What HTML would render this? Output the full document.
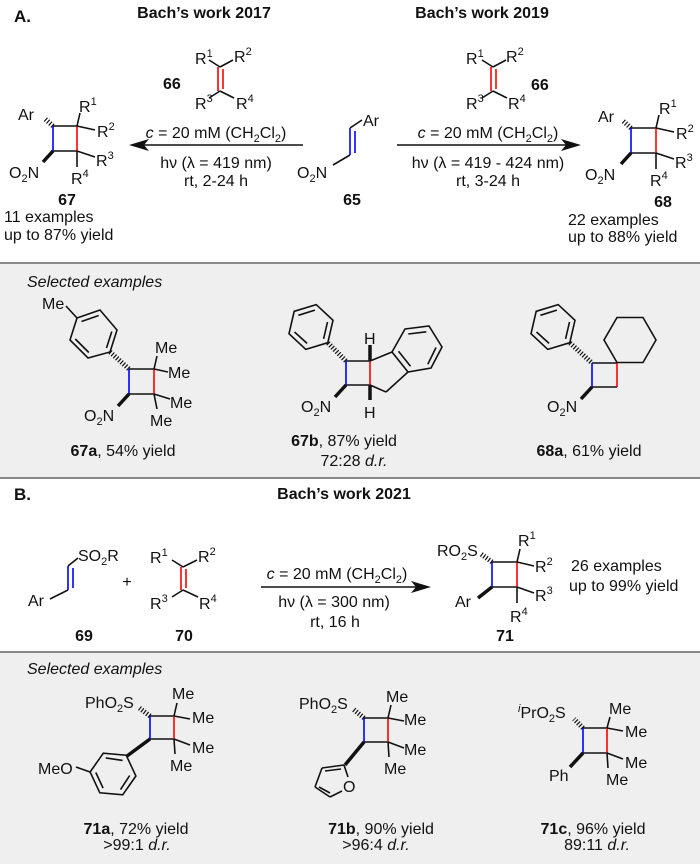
<!DOCTYPE html>
<html><head><meta charset="utf-8"><style>
html,body{margin:0;padding:0;background:#fff;}
svg{display:block;}
text{font-family:"Liberation Sans",Arial,sans-serif;font-size:16px;fill:#111;}
.b{font-weight:bold;}
.i{font-style:italic;}
.s{font-size:11px;}
</style></head><body>
<svg width="700" height="864" viewBox="0 0 700 864" xmlns="http://www.w3.org/2000/svg">
<g stroke="#111" stroke-width="1.6" fill="none" stroke-linecap="round">
</g>
<!-- Section A headers -->
<text x="14" y="22" class="b" style="font-size:17px">A.</text>
<text x="204" y="18" class="b" text-anchor="middle">Bach’s work 2017</text>
<text x="482" y="18" class="b" text-anchor="middle">Bach’s work 2019</text>

<!-- 66 left -->
<g stroke="#111" stroke-width="1.6" fill="none">
<line x1="220" y1="67" x2="209" y2="60"/><line x1="220" y1="67" x2="233" y2="60"/>
<line x1="220" y1="91" x2="209" y2="98"/><line x1="220" y1="91" x2="234" y2="98"/>
<line x1="218" y1="67" x2="218" y2="91" stroke="#f00"/><line x1="223" y1="69" x2="223" y2="89" stroke="#f00"/>
</g>
<text x="195" y="64">R<tspan class="s" dy="-7">1</tspan></text>
<text x="234" y="62">R<tspan class="s" dy="-7">2</tspan></text>
<text x="195" y="109">R<tspan class="s" dy="-7">3</tspan></text>
<text x="236" y="109">R<tspan class="s" dy="-7">4</tspan></text>
<text x="163" y="89" class="b">66</text>

<!-- 67 -->
<g stroke="#111" stroke-width="1.6" fill="none">
<line x1="53" y1="126" x2="77" y2="126"/><line x1="53" y1="151" x2="77" y2="151"/>
<line x1="53" y1="126" x2="53" y2="151" stroke="#00f"/><line x1="77" y1="126" x2="77" y2="151" stroke="#f00"/>
<line x1="77" y1="126" x2="80" y2="113"/><line x1="77" y1="126" x2="95" y2="130"/>
<line x1="77" y1="151" x2="95" y2="157"/><line x1="77" y1="151" x2="77" y2="167"/>
<line x1="53" y1="126" x2="44" y2="118" stroke-width="5" stroke-dasharray="1.2 1.8"/>
<line x1="53" y1="151" x2="43" y2="162" stroke-width="3.5"/>
</g>
<text x="18" y="120">Ar</text>
<text x="79" y="112">R<tspan class="s" dy="-7">1</tspan></text>
<text x="97" y="137">R<tspan class="s" dy="-7">2</tspan></text>
<text x="96" y="166">R<tspan class="s" dy="-7">3</tspan></text>
<text x="71" y="184">R<tspan class="s" dy="-7">4</tspan></text>
<text x="9" y="178">O<tspan class="s" dy="4">2</tspan><tspan dy="-4">N</tspan></text>
<text x="67" y="205" class="b" text-anchor="middle">67</text>
<text x="4" y="222">11 examples</text>
<text x="4" y="240">up to 87% yield</text>

<!-- arrow 1 -->
<line x1="140" y1="145" x2="303" y2="145" stroke="#111" stroke-width="1.6"/>
<polygon points="129,145 149,139 144,145 149,151" fill="#111"/>
<text x="216" y="138" text-anchor="middle"><tspan class="i">c</tspan> = 20 mM (CH<tspan class="s" dy="4">2</tspan><tspan dy="-4">Cl</tspan><tspan class="s" dy="4">2</tspan><tspan dy="-4">)</tspan></text>
<text x="216" y="168" text-anchor="middle">hν (λ = 419 nm)</text>
<text x="216" y="186" text-anchor="middle">rt, 2-24 h</text>

<!-- 65 -->
<g stroke="#111" stroke-width="1.6" fill="none">
<line x1="350" y1="128" x2="362" y2="120"/>
<line x1="350" y1="155" x2="333" y2="165"/>
<line x1="350" y1="128" x2="350" y2="155" stroke="#00f"/><line x1="355" y1="131" x2="355" y2="153" stroke="#00f"/>
</g>
<text x="363" y="126">Ar</text>
<text x="297" y="178">O<tspan class="s" dy="4">2</tspan><tspan dy="-4">N</tspan></text>
<text x="352" y="205" class="b" text-anchor="middle">65</text>

<!-- arrow 2 -->
<line x1="397" y1="145" x2="570" y2="145" stroke="#111" stroke-width="1.6"/>
<polygon points="581,145 561,139 566,145 561,151" fill="#111"/>
<text x="488" y="138" text-anchor="middle"><tspan class="i">c</tspan> = 20 mM (CH<tspan class="s" dy="4">2</tspan><tspan dy="-4">Cl</tspan><tspan class="s" dy="4">2</tspan><tspan dy="-4">)</tspan></text>
<text x="488" y="168" text-anchor="middle">hν (λ = 419 - 424 nm)</text>
<text x="488" y="186" text-anchor="middle">rt, 3-24 h</text>

<!-- 66 right -->
<g stroke="#111" stroke-width="1.6" fill="none">
<line x1="493" y1="67" x2="482" y2="60"/><line x1="493" y1="67" x2="506" y2="60"/>
<line x1="493" y1="91" x2="482" y2="98"/><line x1="493" y1="91" x2="507" y2="98"/>
<line x1="491" y1="67" x2="491" y2="91" stroke="#f00"/><line x1="496" y1="69" x2="496" y2="89" stroke="#f00"/>
</g>
<text x="466" y="64">R<tspan class="s" dy="-7">1</tspan></text>
<text x="506" y="62">R<tspan class="s" dy="-7">2</tspan></text>
<text x="466" y="109">R<tspan class="s" dy="-7">3</tspan></text>
<text x="508" y="109">R<tspan class="s" dy="-7">4</tspan></text>
<text x="531" y="90" class="b">66</text>

<!-- 68 -->
<g stroke="#111" stroke-width="1.6" fill="none">
<line x1="631" y1="128" x2="656" y2="128"/><line x1="631" y1="153" x2="656" y2="153"/>
<line x1="631" y1="128" x2="631" y2="153" stroke="#00f"/><line x1="656" y1="128" x2="656" y2="153" stroke="#f00"/>
<line x1="656" y1="128" x2="659" y2="115"/><line x1="656" y1="128" x2="674" y2="132"/>
<line x1="656" y1="153" x2="674" y2="159"/><line x1="656" y1="153" x2="656" y2="169"/>
<line x1="631" y1="128" x2="622" y2="120" stroke-width="5" stroke-dasharray="1.2 1.8"/>
<line x1="631" y1="153" x2="621" y2="164" stroke-width="3.5"/>
</g>
<text x="598" y="122">Ar</text>
<text x="659" y="114">R<tspan class="s" dy="-7">1</tspan></text>
<text x="676" y="139">R<tspan class="s" dy="-7">2</tspan></text>
<text x="675" y="168">R<tspan class="s" dy="-7">3</tspan></text>
<text x="650" y="186">R<tspan class="s" dy="-7">4</tspan></text>
<text x="585" y="180">O<tspan class="s" dy="4">2</tspan><tspan dy="-4">N</tspan></text>
<text x="663" y="207" class="b" text-anchor="middle">68</text>
<text x="568" y="225">22 examples</text>
<text x="568" y="242">up to 88% yield</text>

<!-- box A -->
<rect x="0" y="263" width="700" height="214" fill="#efefef"/>
<line x1="0" y1="263" x2="700" y2="263" stroke="#888" stroke-width="2"/>
<line x1="0" y1="478" x2="700" y2="478" stroke="#888" stroke-width="2"/>
<text x="27" y="287" class="i">Selected examples</text>

<!-- 67a -->
<g stroke="#111" stroke-width="1.6" fill="none">
<polygon points="100,310 77,318 70,340 88,358 110,352 117,330"/>
<line x1="98.7" y1="315.5" x2="81.5" y2="321.5"/>
<line x1="75.3" y1="339" x2="88.8" y2="352.5"/>
<line x1="106.5" y1="348" x2="111.8" y2="331.5"/>
<line x1="77" y1="318" x2="66" y2="306"/>
<line x1="110" y1="352" x2="129" y2="369" stroke-width="5" stroke-dasharray="1.2 1.8"/>
<line x1="129" y1="369" x2="154" y2="369"/><line x1="129" y1="394" x2="154" y2="394"/>
<line x1="129" y1="369" x2="129" y2="394" stroke="#00f"/><line x1="154" y1="369" x2="154" y2="394" stroke="#f00"/>
<line x1="154" y1="369" x2="157" y2="356"/><line x1="154" y1="369" x2="168" y2="372"/>
<line x1="154" y1="394" x2="170" y2="399"/><line x1="154" y1="394" x2="157" y2="409"/>
<line x1="129" y1="394" x2="118" y2="406" stroke-width="3.5"/>
</g>
<text x="42" y="309">Me</text>
<text x="155" y="353">Me</text>
<text x="168" y="378">Me</text>
<text x="170" y="408">Me</text>
<text x="150" y="426">Me</text>
<text x="84" y="421">O<tspan class="s" dy="4">2</tspan><tspan dy="-4">N</tspan></text>
<text x="123" y="456" text-anchor="middle"><tspan class="b">67a</tspan>, 54% yield</text>

<!-- 67b -->
<g stroke="#111" stroke-width="1.6" fill="none">
<polygon points="327.8,342.7 305.8,349.4 289,333.7 294.2,311.3 316.2,304.6 333,320.3"/>
<line x1="307.1" y1="343.4" x2="294.5" y2="332"/>
<line x1="298.4" y1="315.3" x2="314.9" y2="310.1"/>
<line x1="327.5" y1="322" x2="323.6" y2="338.8"/>
<line x1="328" y1="343" x2="346" y2="361" stroke-width="5" stroke-dasharray="1.2 1.8"/>
<line x1="346" y1="361" x2="370" y2="361"/><line x1="346" y1="385" x2="370" y2="385"/>
<line x1="346" y1="361" x2="346" y2="385" stroke="#00f"/><line x1="370" y1="361" x2="370" y2="385" stroke="#f00"/>
<line x1="370" y1="361" x2="370" y2="345" stroke-width="3.5"/>
<line x1="370" y1="385" x2="370" y2="400" stroke-width="3.5"/>
<line x1="346" y1="385" x2="335" y2="397" stroke-width="3.5"/>
<line x1="370" y1="361" x2="392" y2="352"/>
<line x1="408" y1="372" x2="386" y2="392"/><line x1="386" y1="392" x2="370" y2="385"/>
<polygon points="405,329 429,326 442,347 431,368 408,372 392,352"/>
<line x1="408.3" y1="334" x2="426.3" y2="331.8"/>
<line x1="436" y1="347.5" x2="427.8" y2="364.3"/>
<line x1="410.5" y1="366.3" x2="398.5" y2="351.3"/>
</g>
<text x="364" y="344">H</text>
<text x="364" y="418">H</text>
<text x="301" y="412">O<tspan class="s" dy="4">2</tspan><tspan dy="-4">N</tspan></text>
<text x="344" y="446" text-anchor="middle"><tspan class="b">67b</tspan>, 87% yield</text>
<text x="354" y="466" text-anchor="middle">72:28 <tspan class="i">d.r.</tspan></text>

<!-- 68a -->
<g stroke="#111" stroke-width="1.6" fill="none">
<polygon points="569.8,342.7 547.8,349.4 531,333.7 536.2,311.3 558.2,304.6 575,320.3"/>
<line x1="549.1" y1="343.4" x2="536.5" y2="332"/>
<line x1="540.4" y1="315.3" x2="556.9" y2="310.1"/>
<line x1="569.5" y1="322" x2="565.6" y2="338.8"/>
<line x1="570" y1="343" x2="592" y2="363" stroke-width="5" stroke-dasharray="1.2 1.8"/>
<line x1="592" y1="363" x2="617" y2="363"/><line x1="592" y1="387" x2="617" y2="387"/>
<line x1="592" y1="363" x2="592" y2="387" stroke="#00f"/><line x1="617" y1="363" x2="617" y2="387" stroke="#f00"/>
<line x1="592" y1="387" x2="581" y2="399" stroke-width="3.5"/>
<polygon points="656,340 643,362.5 617,362.5 604,340 617,317.5 643,317.5"/>
</g>
<text x="547" y="412">O<tspan class="s" dy="4">2</tspan><tspan dy="-4">N</tspan></text>
<text x="589" y="456" text-anchor="middle"><tspan class="b">68a</tspan>, 61% yield</text>

<!-- Section B -->
<text x="14" y="500" class="b" style="font-size:17px">B.</text>
<text x="344" y="499" class="b" text-anchor="middle">Bach’s work 2021</text>

<!-- 69 -->
<g stroke="#111" stroke-width="1.6" fill="none">
<line x1="68" y1="566" x2="78" y2="558"/>
<line x1="68" y1="590" x2="50" y2="599"/>
<line x1="68" y1="566" x2="68" y2="590" stroke="#00f"/><line x1="73" y1="568" x2="73" y2="588" stroke="#00f"/>
</g>
<text x="78" y="561">SO<tspan class="s" dy="4">2</tspan><tspan dy="-4">R</tspan></text>
<text x="28" y="606">Ar</text>
<text x="84" y="641" class="b" text-anchor="middle">69</text>
<text x="127" y="587" text-anchor="middle">+</text>

<!-- 70 -->
<g stroke="#111" stroke-width="1.6" fill="none">
<line x1="183" y1="567" x2="172" y2="560"/><line x1="183" y1="567" x2="197" y2="560"/>
<line x1="183" y1="590" x2="172" y2="597"/><line x1="183" y1="590" x2="198" y2="597"/>
<line x1="181" y1="567" x2="181" y2="590" stroke="#f00"/><line x1="186" y1="569" x2="186" y2="588" stroke="#f00"/>
</g>
<text x="150" y="563">R<tspan class="s" dy="-7">1</tspan></text>
<text x="198" y="562">R<tspan class="s" dy="-7">2</tspan></text>
<text x="150" y="609">R<tspan class="s" dy="-7">3</tspan></text>
<text x="199" y="609">R<tspan class="s" dy="-7">4</tspan></text>
<text x="184" y="641" class="b" text-anchor="middle">70</text>

<!-- arrow B -->
<line x1="261" y1="587" x2="420" y2="587" stroke="#111" stroke-width="1.6"/>
<polygon points="431,587 411,581 416,587 411,593" fill="#111"/>
<text x="337" y="579" text-anchor="middle"><tspan class="i">c</tspan> = 20 mM (CH<tspan class="s" dy="4">2</tspan><tspan dy="-4">Cl</tspan><tspan class="s" dy="4">2</tspan><tspan dy="-4">)</tspan></text>
<text x="334" y="607" text-anchor="middle">hν (λ = 300 nm)</text>
<text x="335" y="627" text-anchor="middle">rt, 16 h</text>

<!-- 71 -->
<g stroke="#111" stroke-width="1.6" fill="none">
<line x1="492" y1="562" x2="517" y2="562"/><line x1="492" y1="587" x2="517" y2="587"/>
<line x1="492" y1="562" x2="492" y2="587" stroke="#00f"/><line x1="517" y1="562" x2="517" y2="587" stroke="#f00"/>
<line x1="517" y1="562" x2="520" y2="549"/><line x1="517" y1="562" x2="534" y2="566"/>
<line x1="517" y1="587" x2="534" y2="593"/><line x1="517" y1="587" x2="517" y2="603"/>
<line x1="492" y1="562" x2="481" y2="554" stroke-width="5" stroke-dasharray="1.2 1.8"/>
<line x1="492" y1="587" x2="478" y2="598" stroke-width="3.5"/>
</g>
<text x="437" y="556">RO<tspan class="s" dy="4">2</tspan><tspan dy="-4">S</tspan></text>
<text x="518" y="546">R<tspan class="s" dy="-7">1</tspan></text>
<text x="535" y="572">R<tspan class="s" dy="-7">2</tspan></text>
<text x="535" y="601">R<tspan class="s" dy="-7">3</tspan></text>
<text x="510" y="622">R<tspan class="s" dy="-7">4</tspan></text>
<text x="455" y="607">Ar</text>
<text x="505" y="641" class="b" text-anchor="middle">71</text>
<text x="571" y="571">26 examples</text>
<text x="569" y="591">up to 99% yield</text>

<!-- box B -->
<rect x="0" y="652" width="700" height="212" fill="#efefef"/>
<line x1="0" y1="652" x2="700" y2="652" stroke="#888" stroke-width="2"/>
<text x="27" y="674" class="i">Selected examples</text>

<!-- 71a -->
<g stroke="#111" stroke-width="1.6" fill="none">
<line x1="150" y1="716" x2="174" y2="716"/><line x1="150" y1="739" x2="174" y2="739"/>
<line x1="150" y1="716" x2="150" y2="739" stroke="#00f"/><line x1="174" y1="716" x2="174" y2="739" stroke="#f00"/>
<line x1="174" y1="716" x2="177" y2="703"/><line x1="174" y1="716" x2="190" y2="719"/>
<line x1="174" y1="739" x2="190" y2="745"/><line x1="174" y1="739" x2="175" y2="754"/>
<line x1="150" y1="716" x2="138" y2="707" stroke-width="5" stroke-dasharray="1.2 1.8"/>
<line x1="150" y1="739" x2="127" y2="756" stroke-width="3.5"/>
<polygon points="126.2,755.2 135.9,776 122.7,794.8 99.8,792.8 90.1,772 103.3,753.2"/>
<line x1="129.7" y1="775.5" x2="120.5" y2="789.6"/>
<line x1="103.1" y1="788.1" x2="95.8" y2="772.5"/>
<line x1="105.7" y1="757.9" x2="122.6" y2="760.4"/>
<line x1="90" y1="772" x2="76" y2="767"/>
</g>
<text x="85" y="708">PhO<tspan class="s" dy="4">2</tspan><tspan dy="-4">S</tspan></text>
<text x="172" y="699">Me</text>
<text x="192" y="723">Me</text>
<text x="192" y="753">Me</text>
<text x="170" y="771">Me</text>
<text x="38" y="774">MeO</text>
<text x="136" y="834" text-anchor="middle"><tspan class="b">71a</tspan>, 72% yield</text>
<text x="137" y="850" text-anchor="middle">&gt;99:1 <tspan class="i">d.r.</tspan></text>

<!-- 71b -->
<g stroke="#111" stroke-width="1.6" fill="none">
<line x1="364" y1="718" x2="388" y2="718"/><line x1="364" y1="742" x2="388" y2="742"/>
<line x1="364" y1="718" x2="364" y2="742" stroke="#00f"/><line x1="388" y1="718" x2="388" y2="742" stroke="#f00"/>
<line x1="388" y1="718" x2="391" y2="705"/><line x1="388" y1="718" x2="404" y2="721"/>
<line x1="388" y1="742" x2="404" y2="748"/><line x1="388" y1="742" x2="389" y2="757"/>
<line x1="364" y1="718" x2="353" y2="709" stroke-width="5" stroke-dasharray="1.2 1.8"/>
<line x1="364" y1="742" x2="345" y2="765" stroke-width="3.5"/>
<line x1="344" y1="765" x2="322" y2="768"/><line x1="322" y1="768" x2="315" y2="787"/>
<line x1="315" y1="787" x2="330" y2="797"/><line x1="330" y1="797" x2="342" y2="791"/>
<line x1="344" y1="765" x2="348" y2="777"/>
<line x1="341" y1="769" x2="325" y2="771"/><line x1="319" y1="787" x2="330" y2="793"/>
</g>
<text x="343" y="792">O</text>
<text x="299" y="709">PhO<tspan class="s" dy="4">2</tspan><tspan dy="-4">S</tspan></text>
<text x="386" y="702">Me</text>
<text x="404" y="725">Me</text>
<text x="404" y="755">Me</text>
<text x="384" y="774">Me</text>
<text x="381" y="834" text-anchor="middle"><tspan class="b">71b</tspan>, 90% yield</text>
<text x="376" y="850" text-anchor="middle">&gt;96:4 <tspan class="i">d.r.</tspan></text>

<!-- 71c -->
<g stroke="#111" stroke-width="1.6" fill="none">
<line x1="583" y1="728" x2="607" y2="728"/><line x1="583" y1="753" x2="607" y2="753"/>
<line x1="583" y1="728" x2="583" y2="753" stroke="#00f"/><line x1="607" y1="728" x2="607" y2="753" stroke="#f00"/>
<line x1="607" y1="728" x2="610" y2="717"/><line x1="607" y1="728" x2="623" y2="731"/>
<line x1="607" y1="753" x2="623" y2="759"/><line x1="607" y1="753" x2="608" y2="768"/>
<line x1="583" y1="728" x2="574" y2="719" stroke-width="5" stroke-dasharray="1.2 1.8"/>
<line x1="583" y1="753" x2="570" y2="767" stroke-width="3.5"/>
</g>
<text x="518" y="718"><tspan class="s i" dy="-6">i</tspan><tspan dy="6">PrO</tspan><tspan class="s" dy="4">2</tspan><tspan dy="-4">S</tspan></text>
<text x="609" y="714">Me</text>
<text x="625" y="737">Me</text>
<text x="625" y="768">Me</text>
<text x="606" y="785">Me</text>
<text x="549" y="781">Ph</text>
<text x="593" y="834" text-anchor="middle"><tspan class="b">71c</tspan>, 96% yield</text>
<text x="597" y="850" text-anchor="middle">89:11 <tspan class="i">d.r.</tspan></text>
</svg>
</body></html>
